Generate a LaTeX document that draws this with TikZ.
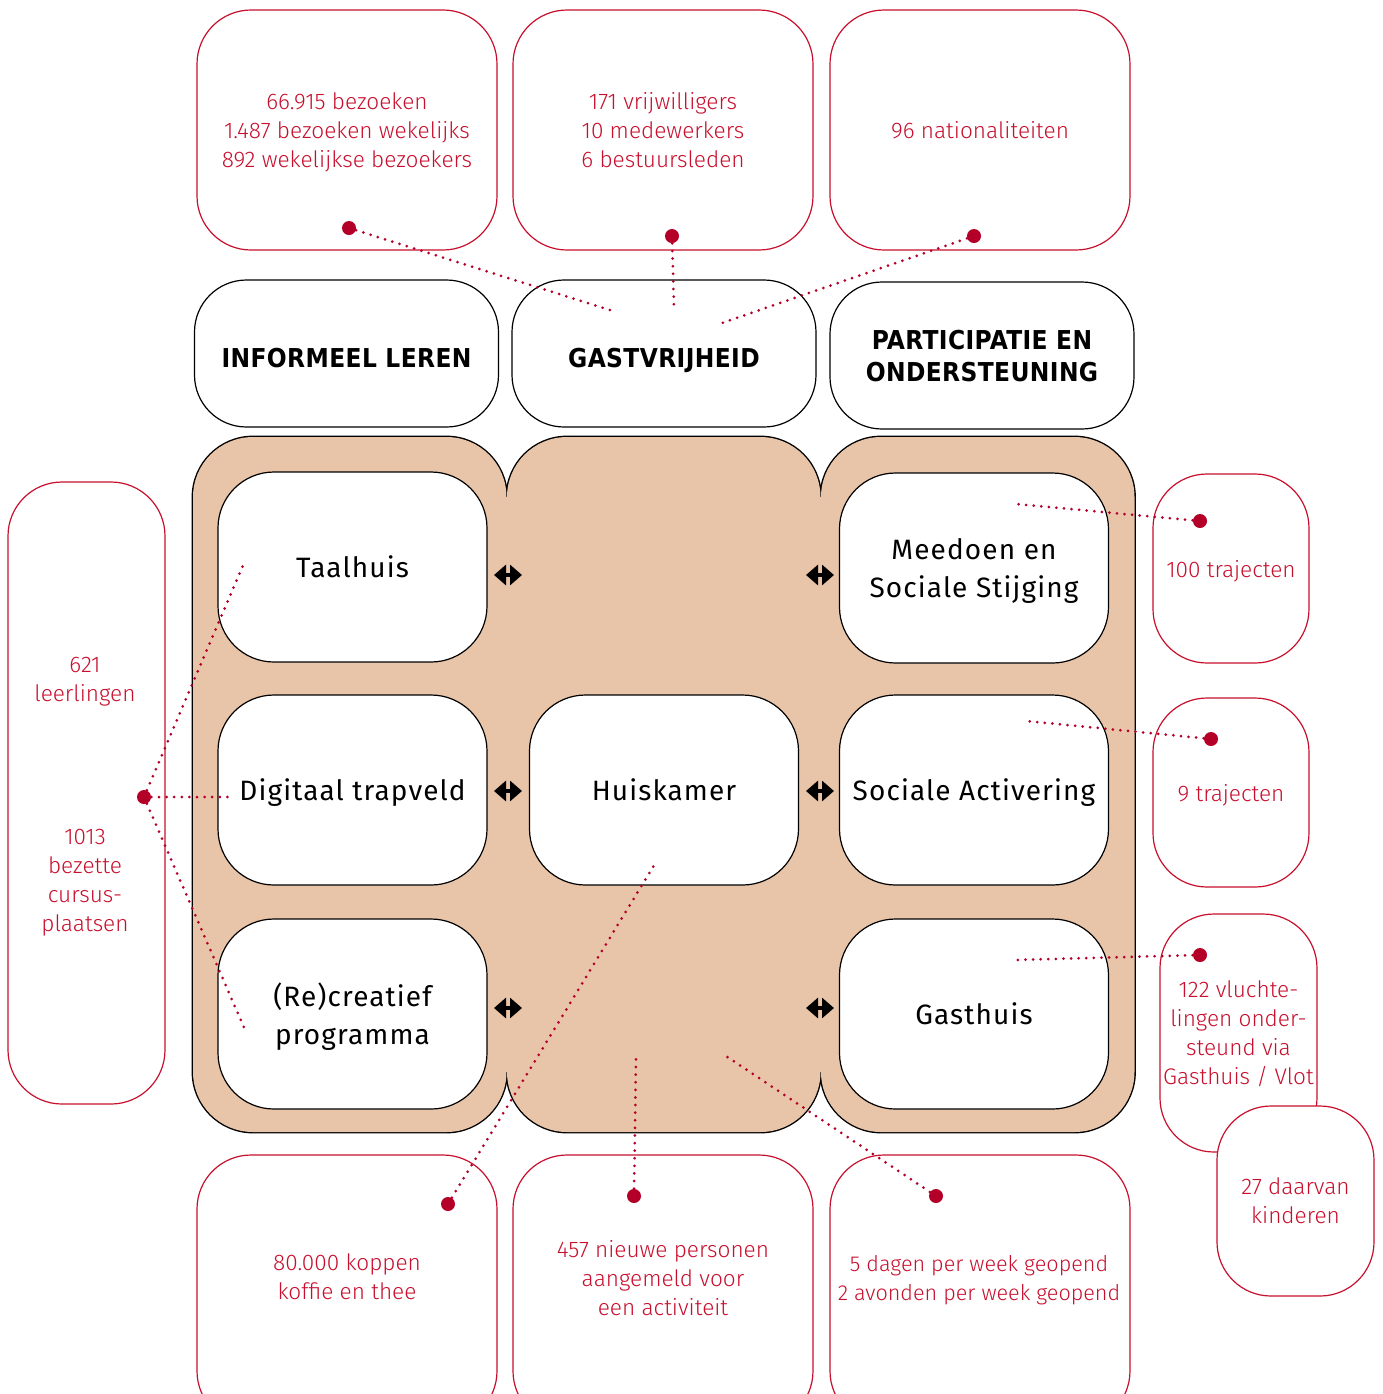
\documentclass[tikz,border=0pt]{standalone}
\usepackage{fontspec}
\setmainfont{Fira Sans}
\newfontfamily\statfont{Fira Sans Light}
\newfontfamily\boxfont{Fira Sans}[LetterSpace=4]
\newfontfamily\headfont{DejaVu Sans Condensed}[LetterSpace=1.5]
\usetikzlibrary{arrows.meta}
\definecolor{statred}{RGB}{200,16,46}
\definecolor{dotred}{RGB}{180,0,40}
\definecolor{peach}{RGB}{232,196,168}
\tikzset{
  stattext/.style={text=statred, align=center, inner sep=0pt, text depth=0pt, font=\statfont\fontsize{11.3}{14.5}\selectfont},
  stat/.style={stattext, draw=statred, line width=0.6pt, fill=white, rounded corners=27pt},
  topic/.style={draw=black, line width=0.6pt, fill=white, rounded corners=26pt, align=center, inner sep=0pt,
    text depth=0pt, font=\headfont\bfseries\fontsize{13}{16}\selectfont, minimum width=152pt, minimum height=73.5pt},
  activity/.style={draw=black, line width=0.6pt, fill=white, rounded corners=28pt, align=center, inner sep=0pt,
    text depth=0pt, font=\boxfont\fontsize{14}{19}\selectfont, minimum width=134.5pt, minimum height=95pt},
  statdot/.style={circle, fill=dotred, inner sep=0pt, minimum size=7pt},
  link/.style={draw=dotred, line width=1.5pt, line cap=round, dash pattern=on 0pt off 3.8pt},
  twoway/.style={{Triangle[length=6pt,width=10pt]}-{Triangle[length=6pt,width=10pt]}, line width=2.4pt},
  lane/.style={rounded corners=30pt}
}
\begin{document}
\begin{tikzpicture}[x=0.5pt, y=-0.5pt]
    \clip (0,0) rectangle (1383,1394);
    \node[stat, minimum width=150pt, minimum height=120pt] (bezoeken) at (347,130) {66.915 bezoeken\\1.487 bezoeken wekelijks\\892 wekelijkse bezoekers};
    \node[stat, minimum width=150pt, minimum height=120pt] (mensen) at (663,130) {171 vrijwilligers\\10 medewerkers\\6 bestuursleden};
    \node[stat, minimum width=150pt, minimum height=120pt] (landen) at (980,130) {96 nationaliteiten};

    \node[topic, text height=14pt] (leren) at (346.5,353.5) {INFORMEEL LEREN};
    \node[topic, text height=14pt] (gastvrij) at (664,353.5) {GASTVRIJHEID};
    \node[topic] (participatie) at (982,355.5) {PARTICIPATIE EN\\ONDERSTEUNING};

    \foreach \x in {193,507,821}
        \draw[lane, line width=1.4pt] (\x,437) rectangle ++(313.5,695);
    \foreach \x in {193,507,821}
        \fill[lane, peach] (\x,437) rectangle ++(313.5,695);
    \foreach \x in {507,821}
        \fill[peach] (\x-7,497) rectangle (\x+7,1072);

    \node[activity] (taalhuis) at (352.5,567) {Taalhuis};
    \node[activity] (meedoen) at (974,568) {Meedoen en\\Sociale Stijging};
    \node[activity] (trapveld) at (352.5,790) {Digitaal trapveld};
    \node[activity] (huiskamer) at (664,790) {Huiskamer};
    \node[activity] (activering) at (974,790) {Sociale Activering};
    \node[activity] (recreatief) at (352.5,1014) {(Re)creatief\\programma};
    \node[activity] (gasthuis) at (974,1014) {Gasthuis};

    \foreach \y in {575,791,1008} {
        \draw[twoway] (494,\y) -- (522,\y);
        \draw[twoway] (806,\y) -- (834,\y);
    }

    \node[stat, minimum width=78pt, minimum height=94.5pt] (trajecten) at (1231,568.5) {100 trajecten};
    \node[stat, minimum width=78pt, minimum height=94.5pt] (activtraj) at (1231,792.5) {9 trajecten};
    \node[stat, minimum width=78.5pt, minimum height=119pt] (vluchtelingen) at (1238.5,1033) {122 vluchte-\\lingen onder-\\steund via\\Gasthuis / Vlot};
    \node[stat, minimum width=78.5pt, minimum height=95pt] (kinderen) at (1295.5,1201) {27 daarvan\\kinderen};

    \node[stat, minimum width=78.5pt, minimum height=311pt] (cursus) at (86.5,793) {};
    \node[stattext] (leerlingen) at (85,679) {621\\leerlingen};
    \node[stattext] (plaatsen) at (85,880) {1013\\bezette\\cursus-\\plaatsen};

    \node[stat, minimum width=150pt, minimum height=135pt] (koffie) at (347,1290) {};
    \node[stattext] (koffietxt) at (347,1277) {80.000 koppen\\koffie en thee};
    \node[stat, minimum width=150pt, minimum height=135pt] (nieuw) at (663,1290) {};
    \node[stattext] (nieuwtxt) at (663,1278) {457 nieuwe personen\\aangemeld voor\\een activiteit};
    \node[stat, minimum width=150pt, minimum height=135pt] (open) at (980,1290) {};
    \node[stattext, font=\statfont\fontsize{10.8}{14.5}\selectfont] (opentxt) at (979,1278) {5 dagen per week geopend\\2 avonden per week geopend};

    \coordinate (gastvrij-a) at (613,311);
    \coordinate (gastvrij-b) at (674,308);
    \coordinate (gastvrij-c) at (722,323);
    \coordinate (meedoen-in) at (1016,504);
    \coordinate (activering-in) at (1026,721);
    \coordinate (gasthuis-in) at (1014,960);
    \coordinate (taalhuis-in) at (244,563);
    \coordinate (trapveld-in) at (230,797);
    \coordinate (recreatief-in) at (246,1032);
    \coordinate (huiskamer-in) at (656,862);
    \coordinate (midden-in) at (636,1055);
    \coordinate (rechts-in) at (726,1056);

    \node[statdot] (bezoeken-dot) at (349,228) {};
    \node[statdot] (mensen-dot) at (672,236) {};
    \node[statdot] (landen-dot) at (974,236) {};
    \node[statdot] (trajecten-dot) at (1200,521) {};
    \node[statdot] (activtraj-dot) at (1211,739) {};
    \node[statdot] (vluchtelingen-dot) at (1200,955) {};
    \node[statdot] (cursus-dot) at (144,797) {};
    \node[statdot] (koffie-dot) at (448,1204) {};
    \node[statdot] (nieuw-dot) at (634,1196) {};
    \node[statdot] (open-dot) at (936,1196) {};

    \draw[link] (bezoeken-dot) -- (gastvrij-a);
    \draw[link] (mensen-dot) -- (gastvrij-b);
    \draw[link] (landen-dot) -- (gastvrij-c);
    \draw[link] (trajecten-dot) -- (meedoen-in);
    \draw[link] (activtraj-dot) -- (activering-in);
    \draw[link] (vluchtelingen-dot) -- (gasthuis-in);
    \draw[link] (cursus-dot) -- (taalhuis-in);
    \draw[link] (cursus-dot) -- (trapveld-in);
    \draw[link] (cursus-dot) -- (recreatief-in);
    \draw[link] (koffie-dot) -- (huiskamer-in);
    \draw[link] (nieuw-dot) -- (midden-in);
    \draw[link] (open-dot) -- (rechts-in);
\end{tikzpicture}
\end{document}
